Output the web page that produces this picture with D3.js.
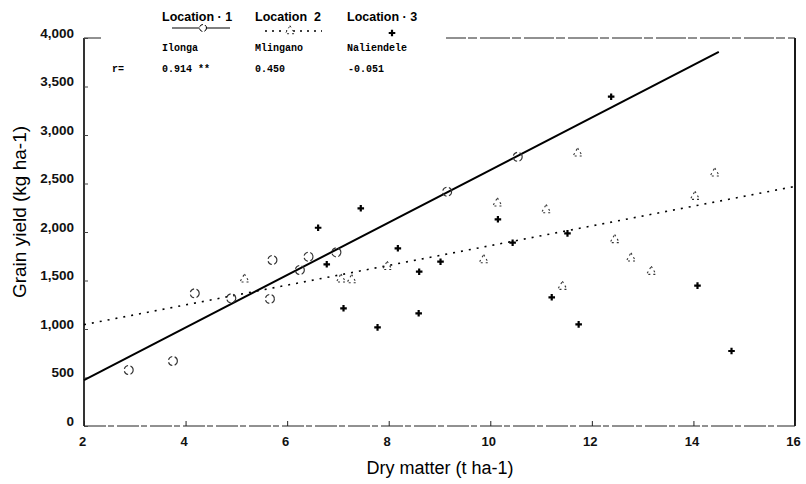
<!DOCTYPE html>
<html>
<head>
<meta charset="utf-8">
<script src="https://cdn.jsdelivr.net/npm/d3@7"></script>
<style>
  body { margin: 0; background: #fff; }
  svg { display: block; }
</style>
</head>
<body>
<svg id="chart" width="806" height="484"></svg>
<script>
// values
var xTicks = [2, 4, 6, 8, 10, 12, 14, 16];
var yTicks = [0, 500, 1000, 1500, 2000, 2500, 3000, 3500, 4000];

var locations = ["Location · 1", "Location  2", "Location · 3"];
var sites = ["Ilonga", "Mlingano", "Naliendele"];
var rValues = ["0.914 **", "0.450", "-0.051"];

// Ilonga (open circles)
var loc1X = [2.88, 3.75, 4.18, 4.9, 5.66, 5.71, 6.25, 6.42, 6.97, 9.15, 10.54];
var loc1Y = [577, 670, 1368, 1316, 1310, 1711, 1608, 1745, 1790, 2415, 2775];

// Mlingano (open triangles)
var loc2X = [5.16, 7.06, 7.27, 7.97, 9.87, 10.14, 11.1, 11.42, 11.72, 12.45, 12.77, 13.17, 14.03, 14.42];
var loc2Y = [1512, 1512, 1505, 1642, 1711, 2296, 2227, 1436, 2811, 1918, 1729, 1591, 2364, 2605];

// Naliendele (filled crosses)
var loc3X = [6.61, 6.78, 7.11, 7.45, 7.78, 8.18, 8.6, 8.59, 9.02, 10.15, 10.44, 11.21, 11.52, 11.74, 12.38, 14.08, 14.75];
var loc3Y = [2044, 1667, 1213, 2244, 1017, 1832, 1591, 1162, 1694, 2131, 1890, 1327, 1986, 1048, 3395, 1447, 773];

// fitted lines, end points
var fit1 = [[2, 474], [14.5, 3856]];
var fit2 = [[2, 1045], [16, 2470]];

var svg = d3.select("#chart");

var x = d3.scaleLinear().domain([2, 16]).range([84, 795]);
var y = d3.scaleLinear().domain([0, 4000]).range([426, 38]);

var sans = "Liberation Sans, Arial, sans-serif";
var mono = "Liberation Mono, Courier New, monospace";

// frame
var frame = svg.append("g");
frame.append("line")
    .attr("x1", x(2)).attr("x2", x(2)).attr("y1", y(4000)).attr("y2", y(0))
    .attr("stroke", "#000").attr("stroke-width", 1.6);
frame.append("line")
    .attr("x1", x(16)).attr("x2", x(16)).attr("y1", y(4000)).attr("y2", y(0))
    .attr("stroke", "#000").attr("stroke-width", 1.8);
frame.append("line")
    .attr("x1", x(2)).attr("x2", x(16)).attr("y1", y(0)).attr("y2", y(0))
    .attr("stroke", "#222").attr("stroke-width", 1)
    .attr("stroke-dasharray", "22,2,6,3");
frame.append("line")
    .attr("x1", x(2)).attr("x2", x(16)).attr("y1", y(4000)).attr("y2", y(4000))
    .attr("stroke", "#222").attr("stroke-width", 1)
    .attr("stroke-dasharray", "30,2,9,3");

// axes (inward ticks)
var xAxis = d3.axisBottom(x).tickValues(xTicks).tickSize(-5).tickFormat(d3.format("d"));
var gx = svg.append("g").attr("transform", `translate(0,${y(0)})`).call(xAxis);
gx.select(".domain").remove();
gx.selectAll("line").attr("stroke", "#222");
gx.selectAll("text")
    .attr("y", 11)
    .attr("dx", -2)
    .style("font-family", sans).style("font-size", "13px").style("font-weight", "bold")
    .attr("fill", "#111");

var yAxis = d3.axisLeft(y).tickValues(yTicks).tickSize(-4).tickFormat(d3.format(","));
var gy = svg.append("g").attr("transform", `translate(${x(2)},0)`).call(yAxis);
gy.select(".domain").remove();
gy.selectAll("line").attr("stroke", "#444");
gy.selectAll("text")
    .attr("x", -10)
    .attr("dy", "-0.05em")
    .style("font-family", sans).style("font-size", "13.5px").style("font-weight", "bold")
    .attr("fill", "#111");

// axis titles
svg.append("text")
    .attr("x", 440).attr("y", 474)
    .attr("text-anchor", "middle")
    .style("font-family", sans).style("font-size", "18px")
    .text("Dry matter (t ha-1)");

svg.append("text")
    .attr("transform", "translate(26,212) rotate(-90)")
    .attr("text-anchor", "middle")
    .style("font-family", sans).style("font-size", "19px")
    .text("Grain yield (kg ha-1)");

// regression lines
var line = d3.line().x(d => x(d[0])).y(d => y(d[1]));
svg.append("path").datum(fit1).attr("d", line)
    .attr("fill", "none").attr("stroke", "#000").attr("stroke-width", 2);
svg.append("path").datum(fit2).attr("d", line)
    .attr("fill", "none").attr("stroke", "#000").attr("stroke-width", 1.6)
    .attr("stroke-dasharray", "2,6");

// points
var triangle = d3.symbol().type(d3.symbolTriangle).size(38);
var cross = d3.symbol().type(d3.symbolCross).size(24);

svg.append("g").selectAll("circle")
    .data(d3.zip(loc1X, loc1Y))
    .join("circle")
    .attr("cx", d => x(d[0])).attr("cy", d => y(d[1]))
    .attr("r", 4.5)
    .attr("fill", "none").attr("stroke", "#333").attr("stroke-width", 1.1)
    .attr("stroke-dasharray", "5,2.5");

svg.append("g").selectAll("path")
    .data(d3.zip(loc2X, loc2Y))
    .join("path")
    .attr("transform", d => `translate(${x(d[0])},${y(d[1])})`)
    .attr("d", triangle)
    .attr("fill", "none").attr("stroke", "#333").attr("stroke-width", 1.1)
    .attr("stroke-dasharray", "2,3");

svg.append("g").selectAll("path")
    .data(d3.zip(loc3X, loc3Y))
    .join("path")
    .attr("transform", d => `translate(${x(d[0])},${y(d[1])})`)
    .attr("d", cross)
    .attr("fill", "#000");

// legend, white box over the top border
var legend = svg.append("g");
legend.append("rect")
    .attr("x", 101).attr("y", 0).attr("width", 345).attr("height", 80)
    .attr("fill", "#fff");

var colX = [162, 255, 347];

legend.selectAll("text.loc")
    .data(locations)
    .join("text")
    .attr("class", "loc")
    .attr("x", (d, i) => colX[i]).attr("y", 21)
    .style("font-family", sans).style("font-size", "12.5px").style("font-weight", "bold")
    .attr("xml:space", "preserve")
    .text(d => d);

legend.append("line")
    .attr("x1", 172).attr("x2", 230).attr("y1", 28).attr("y2", 28)
    .attr("stroke", "#000").attr("stroke-width", 1.2);
legend.append("circle")
    .attr("cx", 203).attr("cy", 28).attr("r", 3.5)
    .attr("fill", "#fff").attr("stroke", "#000").attr("stroke-width", 1)
    .attr("stroke-dasharray", "4,2");
legend.append("line")
    .attr("x1", 265).attr("x2", 322).attr("y1", 31).attr("y2", 31)
    .attr("stroke", "#000").attr("stroke-width", 1.3).attr("stroke-dasharray", "2,5");
legend.append("path")
    .attr("transform", "translate(290,31)")
    .attr("d", triangle)
    .attr("fill", "#fff").attr("stroke", "#333").attr("stroke-dasharray", "2,3");
legend.append("path")
    .attr("transform", "translate(392,33)")
    .attr("d", cross)
    .attr("fill", "#000");

legend.selectAll("text.site")
    .data(sites)
    .join("text")
    .attr("class", "site")
    .attr("x", (d, i) => colX[i]).attr("y", 51)
    .style("font-family", mono).style("font-size", "10px").style("font-weight", "bold")
    .text(d => d);

legend.append("text")
    .attr("x", 112).attr("y", 72)
    .style("font-family", mono).style("font-size", "10px").style("font-weight", "bold")
    .text("r=");

legend.selectAll("text.r")
    .data(rValues)
    .join("text")
    .attr("class", "r")
    .attr("x", (d, i) => colX[i] + (i == 2 ? 1 : 0)).attr("y", 72)
    .style("font-family", mono).style("font-size", "10px").style("font-weight", "bold")
    .text(d => d);
</script>
</body>
</html>
